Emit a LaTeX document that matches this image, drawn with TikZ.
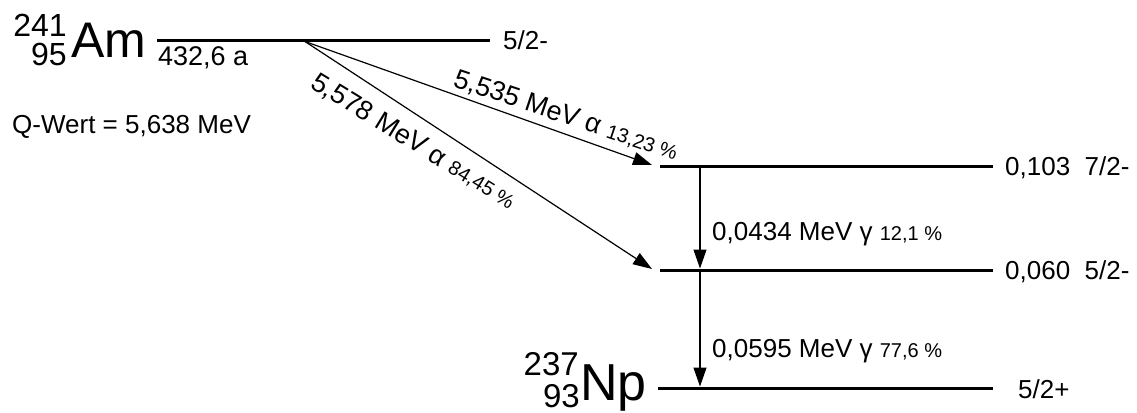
\documentclass[tikz,border=0pt]{standalone}
\usepackage{fontspec}
\setmainfont{Liberation Sans}
\usetikzlibrary{arrows.meta}
\newcommand{\fs}[1]{\fontsize{#1}{#1}\selectfont}
\begin{document}
\begin{tikzpicture}[x=1pt,y=-1pt,
  levelline/.style={line width=3pt},
  trans/.style={line width=1.2pt,-{Triangle[length=19pt,width=13pt]}},
  txt/.style={inner sep=0pt,font=\fs{26}}
]
\useasboundingbox (0,0) rectangle (1137,412);

% level end points
\coordinate (amL) at (157,40.5);
\coordinate (amR) at (490,40.5);
\coordinate (aL) at (660,166);
\coordinate (aR) at (993,166);
\coordinate (bL) at (660,270.5);
\coordinate (bR) at (993,270.5);
\coordinate (npL) at (658,388);
\coordinate (npR) at (993,388);

\draw[levelline] (amL) -- (amR);
\draw[levelline] (aL) -- (aR);
\draw[levelline] (bL) -- (bR);
\draw[levelline] (npL) -- (npR);

% transition end points
\coordinate (alphaS) at (305,41.5);
\coordinate (alphaA) at (652,165);
\coordinate (alphaB) at (652,269);
\coordinate (g1S) at (700,166);
\coordinate (g1E) at (700,268.5);
\coordinate (g2S) at (700,270.5);
\coordinate (g2E) at (700,386.5);

\draw[trans] (alphaS) -- (alphaA);
\draw[trans] (alphaS) -- (alphaB);
\draw[trans] (g1S) -- (g1E);
\draw[trans] (g2S) -- (g2E);

% nuclide labels
\node[inner sep=0pt,anchor=base west,font=\fs{50}] (am) at (71,57) {Am};
\node[inner sep=0pt,anchor=base east,font=\fs{32}] (amA) at (67,37) {241};
\node[inner sep=0pt,anchor=base east,font=\fs{32}] (amZ) at (67,66) {95};
\node[inner sep=0pt,anchor=base west,font=\fs{52}] (np) at (580,400) {Np};
\node[inner sep=0pt,anchor=base east,font=\fs{33}] (npA) at (579,375) {237};
\node[inner sep=0pt,anchor=base east,font=\fs{33}] (npZ) at (580,407) {93};

% texts
\node[txt,anchor=base west,font=\fs{27}] (half) at (158,66) {432,6 a};
\node[txt,anchor=base west] (q) at (12,133) {Q-Wert = 5,638 MeV};
\node[txt,anchor=base west] (spAm) at (503,50) {5/2-};
\node[txt,anchor=base west] (spA) at (1005,175) {0,103\ \ 7/2-};
\node[txt,anchor=base west] (spB) at (1005,279.5) {0,060\ \ 5/2-};
\node[txt,anchor=base west] (spNp) at (1018,398) {5/2+};

\node[txt,anchor=base west,rotate=-18.5,font=\fs{27}] (la1) at (452,86) {5,535 MeV α {\fs{20}13,23 \%}};
\node[txt,anchor=base west,rotate=-31.5,font=\fs{27}] (la2) at (309,87) {5,578 MeV α {\fs{20}84,45 \%}};
\node[txt,anchor=base west] (lg1) at (712,240) {0,0434 MeV γ {\fs{20}12,1 \%}};
\node[txt,anchor=base west] (lg2) at (712,357) {0,0595 MeV γ {\fs{20}77,6 \%}};
\end{tikzpicture}
\end{document}
